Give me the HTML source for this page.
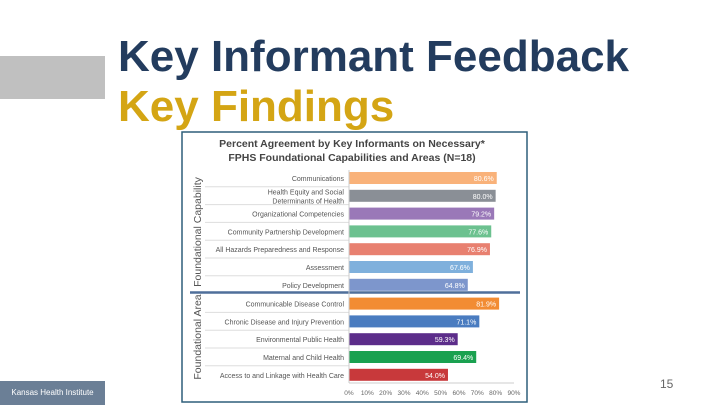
<!DOCTYPE html>
<html><head><meta charset="utf-8"><style>
body{margin:0;width:720px;height:405px;background:#fff;position:relative;overflow:hidden;font-family:"Liberation Sans",sans-serif}
.t{position:absolute;left:118px;font-weight:bold;font-size:44px;line-height:1;white-space:nowrap}
</style></head><body>
<div style="position:absolute;left:0;top:56px;width:105px;height:43px;background:#c0c0c0"></div>
<div class="t" style="top:35px;color:#233c5e">Key Informant Feedback</div>
<div class="t" style="top:85px;color:#d4a514">Key Findings</div>
<div style="position:absolute;left:0;top:381px;width:105px;height:24px;background:#6b7f96;color:#fff;font-size:8px;line-height:24px;text-align:center">Kansas Health Institute</div>
<div style="position:absolute;left:660px;top:377px;font-size:12px;color:#666">15</div>
<svg id="c" width="720" height="405" style="position:absolute;left:0;top:0">
<rect x="182" y="132" width="345" height="270" fill="#fff" stroke="#2e5f7a" stroke-width="1.5"/>
<text x="352" y="147" text-anchor="middle" font-size="10.5" font-weight="bold" fill="#444">Percent Agreement by Key Informants on Necessary*</text>
<text x="352" y="161" text-anchor="middle" font-size="10.5" font-weight="bold" fill="#444">FPHS Foundational Capabilities and Areas (N=18)</text>
<text transform="translate(201,232) rotate(-90)" text-anchor="middle" font-size="10.5" fill="#555">Foundational Capability</text>
<text transform="translate(201,337) rotate(-90)" text-anchor="middle" font-size="10.5" fill="#555">Foundational Area</text>
</svg>
<script>
const categories=["Communications","Health Equity and Social|Determinants of Health","Organizational Competencies","Community Partnership Development","All Hazards Preparedness and Response","Assessment","Policy Development","Communicable Disease Control","Chronic Disease and Injury Prevention","Environmental Public Health","Maternal and Child Health","Access to and Linkage with Health Care"];
const values=[80.6,80.0,79.2,77.6,76.9,67.6,64.8,81.9,71.1,59.3,69.4,54.0];
const colors=["#f9b27a","#8a8f96","#9a78b8","#6cc18f","#e88070","#7fb0dc","#7d96cc","#f28c33","#4a7cc0","#5c2d8a","#1aa150","#c8393b"];
const ticks=[0,10,20,30,40,50,60,70,80,90];
const svg=document.getElementById('c'),NS="http://www.w3.org/2000/svg";
const x=v=>349+v*1.833;
const y=i=>178+i*17.8+(i>=7?1:0);
function mk(t,a,txt){const e=document.createElementNS(NS,t);for(const k in a)e.setAttribute(k,a[k]);if(txt!=null)e.textContent=txt;svg.appendChild(e);return e;}
categories.forEach((c,i)=>{
  const cy=y(i);
  if(i>0&&i!==7){const s=mk('line',{x1:205,x2:349,y1:cy-9,y2:cy-9,stroke:'#ddd','stroke-width':1});
  
  }
  const lines=c.split('|');
  lines.forEach((l,j)=>{const t=mk('text',{x:344,y:cy+3+(j-(lines.length-1)/2)*9,'text-anchor':'end','font-size':7,fill:'#555'},l);
  
  });
  const b=mk('rect',{x:x(0),y:cy-6,width:x(values[i])-x(0),height:12,fill:colors[i]});
  
  
  const v=mk('text',{x:x(values[i])-3,y:cy+3,'text-anchor':'end','font-size':7,fill:'#fff'},values[i].toFixed(1)+'%');
  
  
});
const d=mk('line',{x1:190,x2:520,y1:292.5,y2:292.5,stroke:'#4f6f9a','stroke-width':2.5});


const ax=mk('line',{x1:x(0),x2:x(0),y1:170,y2:383,stroke:'#ccc','stroke-width':1});


const xa=mk('line',{x1:x(0),x2:x(90),y1:383,y2:383,stroke:'#ccc','stroke-width':1});


ticks.forEach(t=>{const e=mk('text',{x:x(t),y:395,'text-anchor':'middle','font-size':6.5,fill:'#666'},t+'%');

});
</script>
</body></html>
